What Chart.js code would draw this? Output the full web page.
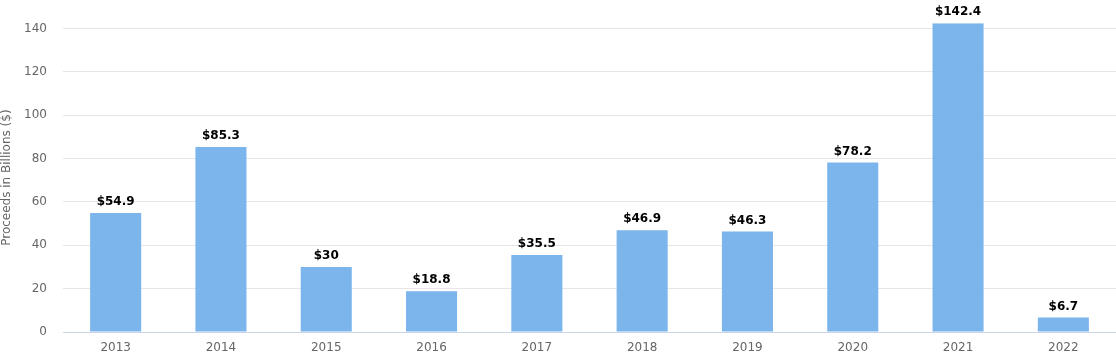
<!DOCTYPE html>
<html>
<head>
<meta charset="utf-8">
<script src="https://cdn.jsdelivr.net/npm/chart.js@4"></script>
<style>
  html, body { margin: 0; padding: 0; background: #fff; }
  .wrap { width: 1116px; height: 359px; position: relative; }
</style>
</head>
<body>
<div class="wrap"><canvas class="js-chart"></canvas></div>
<script>
const years = ['2013', '2014', '2015', '2016', '2017', '2018', '2019', '2020', '2021', '2022'];
const proceeds = [54.9, 85.3, 30, 18.8, 35.5, 46.9, 46.3, 78.2, 142.4, 6.7];
const yTicks = [0, 20, 40, 60, 80, 100, 120, 140];

const fontFamily = '"DejaVu Sans", Verdana, sans-serif';

const valueLabels = {
  id: 'valueLabels',
  afterDatasetsDraw(chart) {
    const { ctx } = chart;
    const meta = chart.getDatasetMeta(0);
    ctx.save();
    ctx.font = 'bold 12px ' + fontFamily;
    ctx.fillStyle = '#000';
    ctx.textAlign = 'center';
    ctx.textBaseline = 'bottom';
    meta.data.forEach((bar, i) => {
      ctx.fillText('$' + proceeds[i], bar.x, bar.y - 5);
    });
    ctx.restore();
  },
};

const ctx = document.querySelector('.js-chart').getContext('2d');

drawChart(years, proceeds);

function drawChart(labels, data) {
  const myChart = new Chart(ctx, {
    type: 'bar',
    data: {
      labels: labels,
      datasets: [
        {
          label: 'Proceeds',
          data: data,
          backgroundColor: '#7cb5ec',
          borderWidth: 0,
          barPercentage: 1,
          categoryPercentage: 0.485,
        },
      ],
    },
    options: {
      responsive: true,
      maintainAspectRatio: false,
      animation: false,
      layout: { padding: { top: 22, right: 0, left: 0, bottom: 0 } },
      plugins: {
        legend: { display: false },
        tooltip: { enabled: false },
      },
      scales: {
        x: {
          grid: { display: false, drawTicks: false },
          border: { color: '#ccd6eb', width: 1 },
          afterFit(scale) {
            scale.height = 27;
          },
          ticks: {
            color: '#666',
            padding: 9,
            font: { family: fontFamily, size: 12 },
          },
        },
        y: {
          min: 0,
          max: 142.4,
          afterBuildTicks(scale) {
            scale.ticks = yTicks.map(v => ({ value: v }));
          },
          afterFit(scale) {
            scale.width = 63;
          },
          grid: { color: '#e6e6e6', drawTicks: false },
          border: { display: false },
          ticks: {
            color: '#666',
            padding: 16,
            font: { family: fontFamily, size: 12 },
          },
          title: {
            display: true,
            text: 'Proceeds in Billions ($)',
            color: '#666',
            padding: { top: 0, bottom: 0 },
            font: { family: fontFamily, size: 12 },
          },
        },
      },
    },
    plugins: [valueLabels],
  });
}
</script>
</body>
</html>
